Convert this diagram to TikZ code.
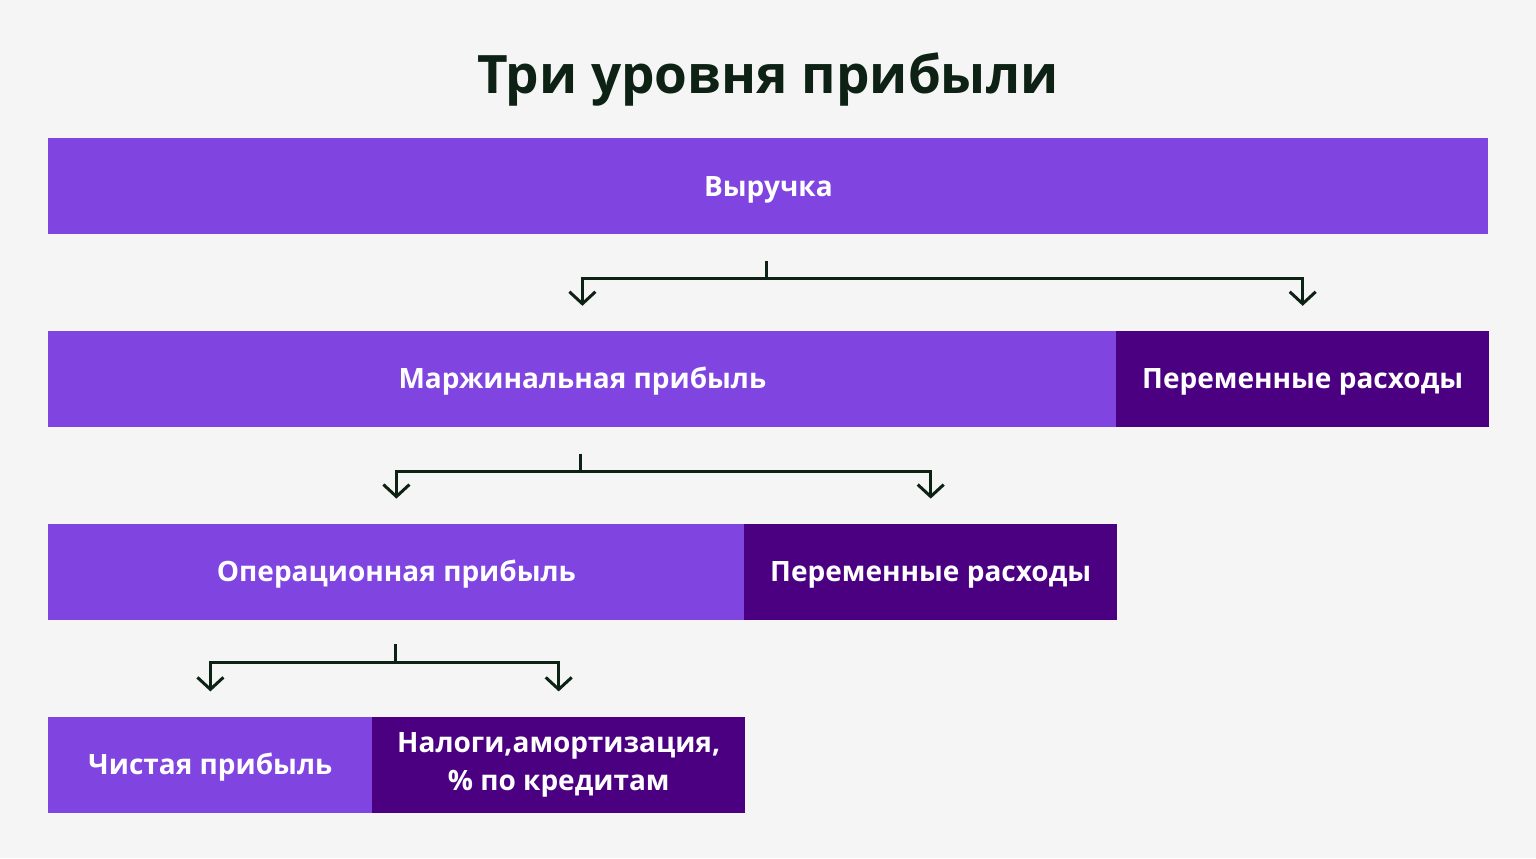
\documentclass[tikz,border=0pt]{standalone}
\usepackage{fontspec}
\setmainfont{Open Sans}
\usepackage{tikz}
\usetikzlibrary{arrows.meta,positioning}
\definecolor{bgcolor}{RGB}{245,245,245}
\definecolor{profit}{RGB}{128,68,224}
\definecolor{cost}{RGB}{75,0,130}
\definecolor{ink}{RGB}{13,34,20}
\newcommand{\boxstrut}{\rule[-3pt]{0pt}{16pt}}

\begin{document}
\begin{tikzpicture}[
			node distance=0pt,
			box/.style={fill=profit, text=white, font=\fontsize{14}{19}\selectfont\bfseries, minimum height=48pt, inner sep=0pt, align=center,
				execute at begin node=\boxstrut, execute at end node=\boxstrut},
			costbox/.style={box, fill=cost},
			line/.style={draw=ink, line width=1.5pt},
			arrow/.style={line, -{Straight Barb[length=6pt,width=13pt,line width=1.5pt]}}
		]

		\useasboundingbox[fill=bgcolor] (0,0) rectangle (768pt,-429pt);
		\node[anchor=base, text=ink, font=\fontsize{26.5}{32}\selectfont\bfseries] (title) at (384pt,-46.5pt) {Три уровня прибыли};

		\node[box, minimum width=720pt, anchor=north west] (rev) at (24pt,-69pt) {Выручка};
		\node[box, minimum width=534pt, below right=48pt and 0pt of rev.south west] (marg) {Маржинальная прибыль};
		\node[costbox, minimum width=186.5pt, right=-0.5pt of marg] (var) {Переменные расходы};
		\node[box, minimum width=348pt, below right=48pt and 0pt of marg.south west] (oper) {Операционная прибыль};
		\node[costbox, minimum width=186.5pt, right=-0.5pt of oper] (var2) {Переменные расходы};
		\node[box, minimum width=162pt, below right=48pt and 0pt of oper.south west] (net) {Чистая прибыль};
		\node[costbox, minimum width=186.5pt, right=-0.5pt of net] (tax) {Налоги,амортизация,\\\% по кредитам};

		% level 1
		\draw[line] ([xshift=-1pt,yshift=-13pt]rev.south) -- ++(0,-9pt) coordinate (j1);
		\draw[arrow] (j1) -| ([yshift=12.5pt]marg.north);
		\draw[arrow] (j1) -| ([yshift=12.5pt]var.north);

		% level 2
		\draw[line] ([xshift=-1pt,yshift=-13pt]marg.south) -- ++(0,-9pt) coordinate (j2);
		\draw[arrow] (j2) -| ([yshift=12.5pt]oper.north);
		\draw[arrow] (j2) -| ([yshift=12.5pt]var2.north);

		% level 3
		\draw[line] ([xshift=-0.5pt,yshift=-12pt]oper.south) -- ++(0,-9pt) coordinate (j3);
		\draw[arrow] (j3) -| ([yshift=12.5pt]net.north);
		\draw[arrow] (j3) -| ([yshift=12.5pt]tax.north);

	\end{tikzpicture}
\end{document}
